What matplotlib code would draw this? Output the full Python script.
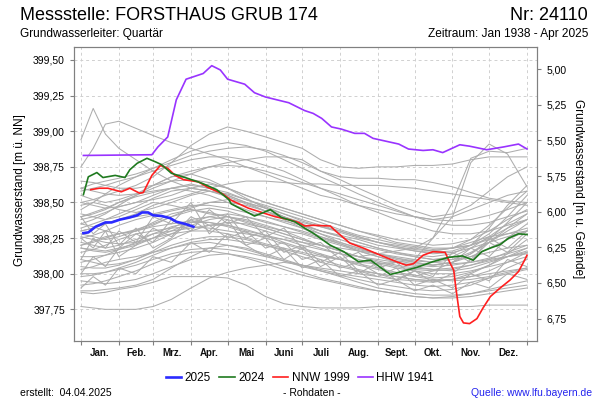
import matplotlib
matplotlib.use("Agg")
import matplotlib.pyplot as plt
from matplotlib.ticker import FixedLocator, FuncFormatter, NullFormatter

plt.rcParams['font.family'] = ['Liberation Sans', 'DejaVu Sans']

# ---- data ----
month_starts = [0, 31, 59, 90, 120, 151, 181, 212, 243, 273, 304, 334, 365]
month_names = ["Jan.", "Feb.", "Mrz.", "Apr.", "Mai", "Juni", "Juli",
               "Aug.", "Sept.", "Okt.", "Nov.", "Dez."]

ground_level = 404.435  # m ü. NN, for the right axis (m u. Gelände)

# all other years, sampled on a common day grid, in cm above 397,00 m
grid_days = [0, 10, 20, 31, 45, 59, 74, 90, 105, 120, 135, 151, 166, 181,
             196, 212, 227, 243, 258, 273, 288, 304, 319, 334, 349, 365]
gray_years_cm = [
    [194, 216, 198, 188, 180, 172, 165, 160, 158, 155, 150, 146, 142, 138, 134, 130, 126, 122, 120, 118, 116, 118, 122, 126, 128, 130],
    [175, 188, 205, 207, 202, 197, 192, 188, 184, 180, 175, 170, 165, 160, 155, 152, 148, 145, 142, 140, 138, 140, 145, 150, 155, 158],
    [150, 152, 155, 158, 162, 168, 178, 190, 198, 203, 200, 196, 192, 188, 180, 175, 174, 175, 175, 176, 176, 177, 180, 182, 182, 182],
    [140, 142, 145, 150, 155, 160, 165, 170, 175, 178, 180, 182, 182, 180, 172, 168, 167, 167, 166, 166, 164, 161, 157, 153, 151, 150],
    [130, 132, 135, 138, 142, 148, 152, 156, 160, 163, 165, 165, 164, 163, 163, 162, 162, 162, 161, 160, 158, 156, 154, 152, 150, 148],
    [120, 122, 125, 128, 130, 133, 135, 137, 136, 134, 130, 127, 124, 120, 117, 114, 112, 114, 116, 118, 125, 140, 178, 191, 184, 161],
    [118, 117, 116, 118, 121, 125, 128, 130, 130, 128, 125, 121, 118, 115, 112, 110, 108, 107, 108, 110, 125, 150, 181, 186, 185, 188],
    [77, 76, 75, 75, 75, 77, 82, 90, 97, 101, 104, 106, 108, 106, 104, 102, 100, 98, 96, 95, 94, 96, 98, 100, 102, 104],
    [87, 86, 87, 89, 91, 94, 98, 98, 98, 97, 92, 84, 79, 77, 76, 76, 76, 77, 77, 77, 77, 77, 77, 78, 78, 78],
    [88, 88, 89, 90, 92, 96, 104, 112, 118, 120, 118, 114, 110, 106, 102, 98, 94, 90, 88, 86, 85, 85, 86, 88, 90, 92],
    [160, 158, 156, 155, 156, 158, 160, 158, 155, 150, 145, 140, 136, 132, 128, 124, 120, 117, 114, 112, 110, 110, 112, 115, 118, 120],
    [155, 152, 150, 152, 156, 162, 168, 170, 166, 160, 153, 146, 140, 134, 128, 122, 118, 114, 110, 108, 106, 108, 112, 118, 124, 130],
    [148, 150, 148, 145, 143, 146, 150, 155, 158, 156, 152, 148, 144, 140, 136, 131, 127, 124, 121, 119, 117, 118, 120, 125, 132, 138],
    [142, 140, 138, 140, 145, 150, 148, 145, 142, 140, 137, 133, 130, 128, 124, 120, 116, 112, 108, 105, 103, 102, 104, 108, 112, 115],
    [138, 140, 143, 147, 150, 152, 155, 160, 163, 160, 155, 150, 146, 142, 138, 134, 130, 126, 122, 120, 118, 118, 120, 124, 128, 132],
    [135, 133, 130, 128, 130, 134, 140, 146, 150, 152, 150, 146, 140, 135, 130, 126, 122, 118, 115, 112, 110, 112, 118, 126, 135, 142],
    [130, 132, 135, 138, 140, 142, 145, 148, 148, 146, 143, 140, 137, 134, 130, 127, 124, 120, 118, 116, 115, 116, 120, 128, 140, 155],
    [128, 126, 124, 126, 130, 136, 142, 145, 143, 140, 136, 132, 128, 124, 120, 116, 112, 108, 105, 103, 102, 103, 106, 110, 115, 120],
    [125, 127, 130, 134, 138, 141, 144, 147, 150, 150, 148, 144, 140, 136, 133, 130, 126, 122, 119, 116, 114, 115, 118, 122, 126, 130],
    [122, 120, 118, 120, 124, 128, 130, 132, 134, 136, 135, 132, 128, 124, 120, 116, 112, 110, 108, 106, 105, 106, 108, 111, 114, 118],
    [120, 123, 126, 128, 131, 135, 140, 144, 146, 144, 140, 136, 133, 130, 126, 122, 118, 114, 111, 108, 106, 108, 114, 122, 132, 142],
    [118, 116, 115, 117, 120, 125, 132, 138, 140, 138, 134, 130, 126, 122, 118, 114, 110, 107, 104, 102, 100, 100, 102, 105, 108, 112],
    [115, 117, 120, 124, 128, 130, 132, 133, 132, 130, 128, 126, 124, 122, 120, 118, 116, 114, 112, 110, 108, 107, 108, 110, 112, 114],
    [112, 112, 113, 115, 118, 122, 128, 134, 138, 140, 138, 134, 130, 125, 120, 116, 112, 109, 106, 104, 103, 104, 106, 109, 112, 116],
    [110, 108, 106, 107, 110, 115, 120, 124, 126, 126, 124, 120, 116, 112, 108, 105, 102, 100, 98, 96, 95, 96, 98, 102, 108, 115],
    [108, 110, 113, 117, 122, 128, 133, 136, 136, 133, 129, 125, 121, 117, 113, 110, 107, 104, 101, 99, 97, 98, 101, 106, 112, 118],
    [105, 104, 104, 106, 110, 116, 124, 130, 134, 134, 131, 127, 122, 118, 114, 110, 106, 103, 100, 98, 96, 95, 96, 98, 101, 104],
    [103, 105, 108, 110, 112, 115, 118, 122, 124, 124, 122, 120, 117, 114, 110, 106, 103, 100, 98, 96, 95, 96, 100, 106, 114, 124],
    [100, 100, 101, 103, 106, 110, 114, 117, 118, 117, 115, 112, 109, 106, 103, 100, 98, 96, 94, 92, 91, 92, 94, 97, 100, 103],
    [98, 99, 101, 104, 108, 113, 118, 121, 122, 120, 117, 113, 109, 105, 102, 99, 96, 93, 91, 89, 88, 89, 92, 97, 104, 110],
    [165, 164, 162, 160, 160, 162, 165, 166, 164, 160, 155, 150, 146, 142, 138, 134, 130, 127, 124, 122, 120, 121, 124, 130, 138, 145],
    [150, 148, 146, 147, 150, 155, 160, 163, 160, 155, 150, 144, 138, 132, 126, 121, 116, 112, 109, 107, 106, 108, 114, 124, 136, 150],
    [132, 135, 138, 142, 147, 153, 158, 160, 158, 154, 149, 144, 139, 134, 130, 126, 122, 118, 115, 113, 112, 114, 120, 132, 148, 162],
    [140, 143, 146, 150, 154, 157, 160, 162, 160, 157, 152, 147, 142, 137, 133, 129, 125, 122, 119, 117, 116, 118, 124, 134, 146, 158],
    [126, 124, 122, 121, 122, 125, 130, 136, 140, 142, 140, 137, 133, 129, 125, 121, 117, 114, 111, 109, 108, 110, 115, 122, 130, 138],
    [145, 150, 156, 162, 168, 174, 180, 186, 190, 192, 190, 186, 180, 174, 168, 162, 156, 150, 145, 140, 136, 134, 134, 136, 140, 144],
    [158, 160, 162, 165, 168, 172, 176, 180, 182, 182, 180, 176, 172, 166, 160, 154, 148, 143, 138, 134, 130, 128, 128, 130, 134, 138],
    [160, 163, 165, 167, 170, 174, 178, 183, 186, 188, 189, 187, 183, 178, 172, 166, 160, 154, 148, 144, 140, 142, 148, 158, 168, 175],
    [135, 138, 142, 148, 155, 162, 168, 172, 175, 176, 175, 172, 168, 164, 160, 156, 152, 148, 144, 140, 138, 137, 138, 141, 145, 150],
    [92, 93, 95, 98, 102, 107, 112, 115, 116, 114, 111, 107, 103, 99, 96, 93, 90, 88, 86, 84, 83, 84, 86, 89, 92, 95],
    [95, 94, 93, 94, 96, 100, 105, 110, 113, 114, 112, 109, 105, 101, 97, 94, 91, 88, 86, 84, 83, 83, 84, 86, 88, 90],
    [110, 125, 118, 130, 122, 140, 135, 150, 128, 138, 120, 125, 110, 118, 105, 112, 100, 108, 95, 102, 98, 115, 108, 125, 118, 130],
    [140, 128, 135, 120, 132, 118, 125, 138, 130, 142, 125, 130, 115, 120, 108, 115, 102, 98, 104, 92, 96, 90, 100, 95, 110, 105],
    [100, 112, 105, 118, 128, 122, 138, 130, 145, 135, 140, 126, 132, 118, 122, 110, 115, 104, 108, 98, 102, 108, 118, 112, 125, 135],
    [125, 118, 130, 112, 120, 132, 126, 140, 134, 125, 130, 118, 122, 110, 114, 104, 108, 100, 96, 102, 94, 100, 110, 122, 115, 128],
    [90, 98, 92, 104, 100, 112, 108, 122, 115, 128, 120, 112, 118, 104, 110, 98, 102, 92, 96, 88, 92, 86, 94, 90, 100, 96],
]

hhw_days = [2, 58, 63, 71, 78, 86, 100, 107, 114, 120, 134, 142, 151, 170, 183, 190,
            197, 205, 213, 224, 232, 239, 260, 268, 280, 288, 296, 310, 318, 332, 346, 358, 365]
hhw_level = [398.83, 398.835, 398.89, 398.96, 399.22, 399.365, 399.405, 399.46, 399.43,
             399.365, 399.33, 399.27, 399.24, 399.20, 399.145, 399.125, 399.09, 399.03,
             399.015, 398.985, 398.985, 398.95, 398.91, 398.875, 398.865, 398.87, 398.85,
             398.905, 398.895, 398.87, 398.89, 398.91, 398.875]

nnw_days = [8, 15, 22, 33, 40, 48, 51, 58, 65, 71, 77, 84, 96, 104, 112, 116, 123, 137,
            148, 159, 170, 178, 183, 190, 204, 209, 220, 231, 245, 258, 266, 272, 280,
            288, 298, 302, 305, 307, 310, 313, 318, 324, 329, 335, 343, 351, 358, 363, 365]
nnw_level = [398.59, 398.60, 398.60, 398.575, 398.60, 398.565, 398.57, 398.69, 398.76,
             398.74, 398.69, 398.66, 398.645, 398.605, 398.575, 398.56, 398.515, 398.46,
             398.43, 398.40, 398.38, 398.36, 398.335, 398.34, 398.335, 398.295, 398.215,
             398.18, 398.13, 398.085, 398.06, 398.07, 398.13, 398.155, 398.15, 398.075,
             398.025, 397.885, 397.70, 397.655, 397.65, 397.685, 397.76, 397.84, 397.90,
             397.955, 398.015, 398.095, 398.13]

y2024_days = [2, 6, 13, 18, 28, 36, 40, 46, 54, 61, 66, 74, 87, 99, 111, 121, 123, 142,
              148, 155, 159, 164, 175, 183, 190, 204, 215, 227, 237, 253, 258, 275, 288,
              301, 312, 321, 328, 335, 343, 350, 358, 365]
y2024_level = [398.555, 398.68, 398.71, 398.675, 398.69, 398.675, 398.73, 398.775, 398.81,
               398.785, 398.765, 398.705, 398.67, 398.635, 398.59, 398.52, 398.49, 398.405,
               398.425, 398.45, 398.425, 398.395, 398.365, 398.32, 398.285, 398.20, 398.155,
               398.085, 398.095, 397.995, 398.005, 398.045, 398.085, 398.115, 398.125,
               398.095, 398.155, 398.18, 398.205, 398.25, 398.28, 398.275]

y2025_days = [2, 6, 12, 20, 25, 32, 40, 46, 50, 55, 59, 66, 73, 78, 85, 92]
y2025_level = [398.285, 398.29, 398.33, 398.36, 398.36, 398.38, 398.395, 398.41, 398.43,
               398.43, 398.41, 398.405, 398.39, 398.365, 398.35, 398.33]

left_ticks = [397.75, 398.00, 398.25, 398.50, 398.75, 399.00, 399.25, 399.50]
right_ticks = [5.00, 5.25, 5.50, 5.75, 6.00, 6.25, 6.50, 6.75]

# ---- figure ----
fig = plt.figure(figsize=(6, 4), dpi=100)
ax = fig.add_axes([74 / 600, 1 - 341 / 400, (537.3 - 74) / 600, (341 - 47) / 400])

for cm in gray_years_cm:
    ax.plot(grid_days, [397 + v / 100 for v in cm], color='#adadad', lw=0.75, zorder=2)

ax.plot(hhw_days, hhw_level, color='#9933ff', lw=1.2, zorder=3, label='HHW 1941')
ax.plot(nnw_days, nnw_level, color='#ff1f1f', lw=1.2, zorder=4, label='NNW 1999')
ax.plot(y2024_days, y2024_level, color='#1f7a1f', lw=1.2, zorder=5, label='2024')
ax.plot(y2025_days, y2025_level, color='#2b2bff', lw=1.9, zorder=6, label='2025')

ax.set_xlim(-5.7, 373.4)
ax.set_ylim(397.528, 399.591)

comma = FuncFormatter(lambda v, p: f"{v:.2f}".replace('.', ','))
ax.yaxis.set_major_locator(FixedLocator(left_ticks))
ax.yaxis.set_major_formatter(comma)
ax.xaxis.set_major_locator(FixedLocator(month_starts))
ax.xaxis.set_major_formatter(NullFormatter())
mids = [(a + b) / 2 for a, b in zip(month_starts[:-1], month_starts[1:])]
ax.xaxis.set_minor_locator(FixedLocator(mids))
ax.xaxis.set_minor_formatter(FuncFormatter(lambda v, p: month_names[mids.index(v)] if v in mids else ''))
ax.tick_params(axis='x', which='minor', length=0, pad=5, labelsize=7, labelcolor='#111111')
for t in ax.xaxis.get_minorticklabels():
    t.set_fontweight('bold')
ax.tick_params(axis='both', which='major', length=3, color='#808080', labelsize=7.5)
ax.grid(True, which='major', color='#d0d0d0', ls=(0, (3, 3)), lw=0.7)
for s in ax.spines.values():
    s.set_color('#808080')

ax2 = ax.twinx()
ax2.set_ylim(ground_level - 397.528, ground_level - 399.591)
ax2.yaxis.set_major_locator(FixedLocator(right_ticks))
ax2.yaxis.set_major_formatter(comma)
ax2.tick_params(axis='y', length=3, color='#808080', labelsize=7.5)
for s in ax2.spines.values():
    s.set_color('#808080')

fig.text(20 / 600, 1 - 190 / 400, "Grundwasserstand [m ü. NN]", rotation=90,
         ha='center', va='center', fontsize=8.5)
fig.text(578 / 600, 1 - 189 / 400, "Grundwasserstand [m u. Gelände]", rotation=270,
         ha='center', va='center', fontsize=8.5)

fig.text(20 / 600, 1 - 15 / 400, "Messstelle: FORSTHAUS GRUB 174", ha='left', va='center', fontsize=13)
fig.text(588 / 600, 1 - 15 / 400, "Nr: 24110", ha='right', va='center', fontsize=13)
fig.text(20 / 600, 1 - 34 / 400, "Grundwasserleiter: Quartär", ha='left', va='center', fontsize=8.6)
fig.text(588 / 600, 1 - 34 / 400, "Zeitraum: Jan 1938 - Apr 2025", ha='right', va='center', fontsize=8.6)

h, l = ax.get_legend_handles_labels()
order = [3, 2, 1, 0]
fig.legend([h[i] for i in order], [l[i] for i in order], loc='center', ncol=4,
           bbox_to_anchor=(300 / 600, 1 - 378 / 400), frameon=False, fontsize=8.5,
           handlelength=1.3, handletextpad=0.3, columnspacing=0.7)

fig.text(20 / 600, 1 - 393 / 400, "erstellt:  04.04.2025", ha='left', va='center', fontsize=7.5)
fig.text(312 / 600, 1 - 393 / 400, "- Rohdaten -", ha='center', va='center', fontsize=7.5)
fig.text(592 / 600, 1 - 393 / 400, "Quelle: www.lfu.bayern.de", ha='right', va='center',
         fontsize=7.5, color='#2222ee')

fig.savefig("out.png", dpi=100)
